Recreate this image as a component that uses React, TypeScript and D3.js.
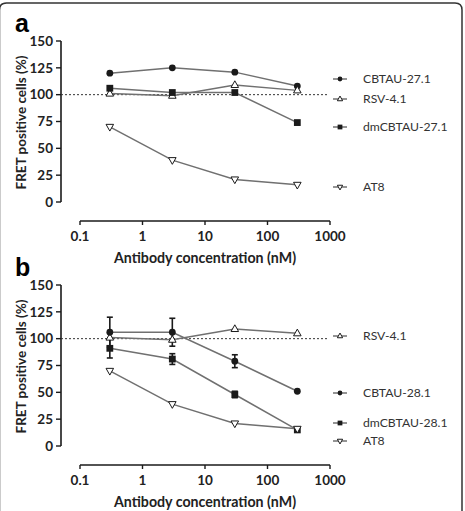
import * as d3 from "d3";

// antibody concentrations (nM) tested in both panels
const concentrations = [0.3, 3, 30, 300];
const xTicks = [0.1, 1, 10, 100, 1000];
const yTicks = [0, 25, 50, 75, 100, 125, 150];

// panel a: FRET positive cells (%)
const cbtau271 = [120, 125, 121, 108];
const rsv41 = [101, 99, 109, 104];
const dmCbtau271 = [106, 102, 102, 74];
const at8 = [70, 39, 21, 16];

// panel b
const cbtau281 = [106, 106, 79, 51];
const cbtau281Err = [14, 13, 6, 0];
const dmCbtau281 = [91, 81, 48, 15];
const dmCbtau281Err = [9, 5, 3, 0];
const rsv41b = [101, 99, 109, 105];
const at8b = [70, 39, 21, 16];

type Marker = "circle" | "square" | "triUp" | "triDown";
type Series = { name: string; values: number[]; err?: number[]; marker: Marker; legendDy: number };

const panelA: Series[] = [
  { name: "CBTAU-27.1", values: cbtau271, marker: "circle", legendDy: 38 },
  { name: "RSV-4.1", values: rsv41, marker: "triUp", legendDy: 58 },
  { name: "dmCBTAU-27.1", values: dmCbtau271, marker: "square", legendDy: 86 },
  { name: "AT8", values: at8, marker: "triDown", legendDy: 146 },
];

const panelB: Series[] = [
  { name: "RSV-4.1", values: rsv41b, marker: "triUp", legendDy: 51 },
  { name: "CBTAU-28.1", values: cbtau281, err: cbtau281Err, marker: "circle", legendDy: 108 },
  { name: "dmCBTAU-28.1", values: dmCbtau281, err: dmCbtau281Err, marker: "square", legendDy: 138 },
  { name: "AT8", values: at8b, marker: "triDown", legendDy: 156 },
];

const FONT = "Lato, 'Open Sans', sans-serif";
const INK = "#1a1a1a";
const LINE = "#707070";

const xScale = d3.scaleLog().domain([0.1, 1000]).range([80, 330]);

const MarkerShape = ({ type, x, y, s = 1 }: { type: Marker; x: number; y: number; s?: number }) => {
  if (type === "circle") return <circle cx={x} cy={y} r={3.4 * s} fill={INK} />;
  if (type === "square") {
    const h = 3.4 * s;
    return <rect x={x - h} y={y - h} width={2 * h} height={2 * h} fill={INK} />;
  }
  const r = 4.2 * s;
  const dir = type === "triUp" ? 1 : -1;
  const pts = [
    [x, y - dir * r],
    [x - r * 0.9, y + dir * r * 0.6],
    [x + r * 0.9, y + dir * r * 0.6],
  ];
  return <polygon points={pts.map((p) => p.join(",")).join(" ")} fill="#fff" stroke={INK} strokeWidth={1} />;
};

const Panel = ({ top, label, series }: { top: number; label: string; series: Series[] }) => {
  const yScale = d3.scaleLinear().domain([0, 150]).range([top + 161, top]);
  const y0 = yScale(0);
  const axisY = y0 + 19;
  const line = d3
    .line<number>()
    .x((_, i) => xScale(concentrations[i]))
    .y((d) => yScale(d));

  return (
    <g>
      <text x={15} y={top - 9} fontFamily="'Liberation Sans', Arial, sans-serif" fontWeight="bold" fontSize={25} fill="#000">
        {label}
      </text>

      {/* y axis */}
      <line x1={61} x2={61} y1={yScale(150)} y2={y0} stroke={INK} strokeWidth={1.6} />
      {yTicks.map((t) => (
        <g key={t}>
          <line x1={56} x2={61} y1={yScale(t)} y2={yScale(t)} stroke={INK} strokeWidth={1.4} />
          <text x={53} y={yScale(t)} dy="0.35em" textAnchor="end" fontFamily={FONT} fontWeight="bold" fontSize={13.5} fill="#222">
            {t}
          </text>
        </g>
      ))}
      <text
        transform={`translate(26,${(yScale(150) + y0) / 2 + 1}) rotate(-90)`}
        textAnchor="middle"
        fontFamily={FONT}
        fontWeight="bold"
        fontSize={13.5}
        fill="#222"
      >
        FRET positive cells (%)
      </text>

      {/* x axis */}
      <line x1={xScale(0.1)} x2={xScale(1000)} y1={axisY} y2={axisY} stroke={INK} strokeWidth={1.6} />
      {xTicks.map((t) => (
        <g key={t}>
          <line x1={xScale(t)} x2={xScale(t)} y1={axisY} y2={axisY + 4} stroke={INK} strokeWidth={1.4} />
          <text x={xScale(t)} y={axisY + 15} dy="0.35em" textAnchor="middle" fontFamily={FONT} fontWeight="bold" fontSize={13.5} fill="#222">
            {t}
          </text>
        </g>
      ))}
      <text x={205} y={axisY + 37} dy="0.35em" textAnchor="middle" fontFamily={FONT} fontWeight="bold" fontSize={14.2} fill="#222">
        Antibody concentration (nM)
      </text>

      {/* 100% reference */}
      <line x1={61} x2={329} y1={yScale(100)} y2={yScale(100)} stroke="#333" strokeWidth={1} strokeDasharray="2,2" />

      {series.map((s) => (
        <path key={s.name} d={line(s.values) || ""} fill="none" stroke={LINE} strokeWidth={1.5} />
      ))}
      {series.map((s) =>
        s.err
          ? s.values.map((v, i) =>
              s.err![i] > 0 ? (
                <g key={`${s.name}-e${i}`} stroke={INK} strokeWidth={1.6}>
                  <line x1={xScale(concentrations[i])} x2={xScale(concentrations[i])} y1={yScale(v - s.err![i])} y2={yScale(v + s.err![i])} />
                  <line x1={xScale(concentrations[i]) - 3} x2={xScale(concentrations[i]) + 3} y1={yScale(v - s.err![i])} y2={yScale(v - s.err![i])} />
                  <line x1={xScale(concentrations[i]) - 3} x2={xScale(concentrations[i]) + 3} y1={yScale(v + s.err![i])} y2={yScale(v + s.err![i])} />
                </g>
              ) : null
            )
          : null
      )}
      {series.map((s) =>
        s.values.map((v, i) => <MarkerShape key={`${s.name}-${i}`} type={s.marker} x={xScale(concentrations[i])} y={yScale(v)} />)
      )}

      {/* legend */}
      {series.map((s) => {
        const ly = top + s.legendDy;
        return (
          <g key={`leg-${s.name}`}>
            <line x1={333} x2={347} y1={ly} y2={ly} stroke={LINE} strokeWidth={1.5} />
            <MarkerShape type={s.marker} x={340} y={ly} s={0.7} />
            <text x={363} y={ly} dy="0.35em" fontFamily={FONT} fontSize={12.2} fill="#333">
              {s.name}
            </text>
          </g>
        );
      })}
    </g>
  );
};

export default function App() {
  return (
    <svg width={465} height={511} style={{ position: "absolute", left: 0, top: 0, background: "#fff" }}>
      <path d="M -0.5 511 V 10 Q -0.5 3 6.5 3 H 455 Q 462 3 462 10 V 511" fill="none" stroke="#333" strokeWidth={1.5} />
      <Panel top={41} label="a" series={panelA} />
      <Panel top={285} label="b" series={panelB} />
    </svg>
  );
}
